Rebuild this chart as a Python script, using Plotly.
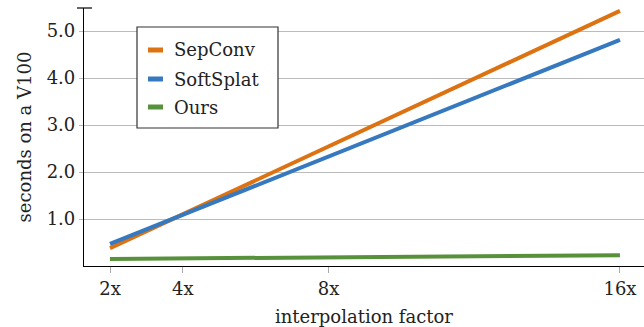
import plotly.graph_objects as go

factors = [2, 4, 8, 16]
tick_labels = ["2x", "4x", "8x", "16x"]
series_names = ["SepConv", "SoftSplat", "Ours"]
sepconv = [0.38, 1.10, 2.54, 5.43]
softsplat = [0.47, 1.09, 2.34, 4.81]
ours = [0.15, 0.16, 0.18, 0.23]
y_ticks = [1.0, 2.0, 3.0, 4.0, 5.0]
y_tick_labels = ["1.0", "2.0", "3.0", "4.0", "5.0"]

colors = ["#dd7212", "#3679be", "#58913c"]
FONT = "DejaVu Serif, Liberation Serif, serif"
FS = 18

fig = go.Figure()
for name, vals, c in zip(series_names, [sepconv, softsplat, ours], colors):
    fig.add_trace(go.Scatter(x=factors, y=vals, mode="lines", name=name,
                             line=dict(color=c, width=4), showlegend=False))

# manual legend
lx0, lx1, ly0, ly1 = (137 - 84) / 560, (278 - 84) / 560, (266 - 128) / 258, (266 - 27) / 258
shapes = [dict(type="rect", xref="paper", yref="paper", x0=lx0, x1=lx1, y0=ly0, y1=ly1,
               line=dict(color="#333333", width=1.2), fillcolor="white", layer="above")]
annotations = []
row_px = [50, 79, 107]
for name, c, py in zip(series_names, colors, row_px):
    yp = (266 - py) / 258
    shapes.append(dict(type="rect", xref="paper", yref="paper",
                       x0=(148 - 84) / 560, x1=(163 - 84) / 560,
                       y0=yp - 2.5 / 258, y1=yp + 2.5 / 258,
                       line=dict(width=0), fillcolor=c, layer="above"))
    annotations.append(dict(xref="paper", yref="paper", x=(172 - 84) / 560, y=yp,
                            xanchor="left", yanchor="middle", text=name, showarrow=False,
                            font=dict(family=FONT, size=FS, color="#222")))
# top end tick of the y axis
shapes.append(dict(type="line", xref="paper", yref="paper", x0=(77 - 84) / 560, x1=(92 - 84) / 560,
                   y0=1, y1=1, line=dict(color="black", width=1.2)))

fig.update_layout(
    width=644, height=327,
    margin=dict(l=84, r=0, t=8, b=61, autoexpand=False),
    paper_bgcolor="white", plot_bgcolor="white",
    font=dict(family=FONT, size=FS, color="#222"),
    shapes=shapes, annotations=annotations,
    xaxis=dict(range=[1.286, 16.66], tickvals=factors, ticktext=tick_labels,
               showgrid=False, zeroline=False, showline=True, linecolor="black", linewidth=1.2,
               ticks="outside", ticklen=6, tickcolor="#aaaaaa", automargin=False,
               title=dict(text="interpolation factor", standoff=14, font=dict(size=FS))),
    yaxis=dict(range=[0, 5.49], tickvals=y_ticks, ticktext=y_tick_labels,
               showgrid=True, gridcolor="#bbbbbb", gridwidth=1, zeroline=False,
               showline=True, linecolor="black", linewidth=1.2, automargin=False,
               ticks="outside", ticklen=4, tickcolor="#bbbbbb",
               title=dict(text="seconds on a V100", standoff=10, font=dict(size=FS))),
)
fig.write_html("out.html", config={"displayModeBar": False},
               post_script="document.body.style.margin='0';document.body.style.overflow='hidden';")
